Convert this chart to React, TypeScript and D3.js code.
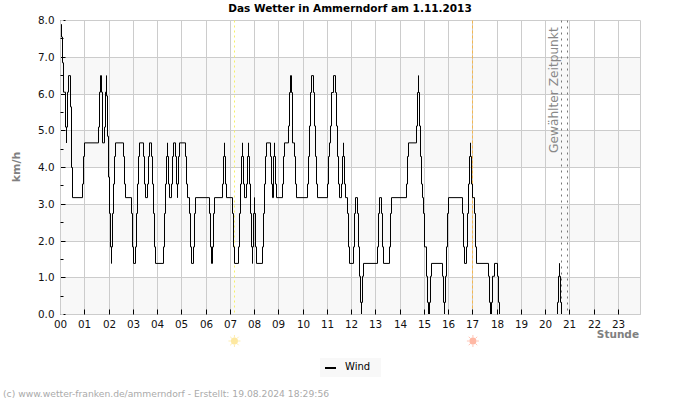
import { useEffect, useRef } from "react";

import * as d3 from "d3";

// Wind readings as [sample, km/h]; a new sample is logged 24.26 times per hour
const samplesPerHour = 24.26;
const windSteps: [number, number][] = [
  [1, 7.9], [1, 7.55], [2, 6.85], [3, 6.05], [5, 5.1], [6, 4.67], [6, 5.1], [7, 6.05], [8, 6.5], [10, 5.65], [11, 4.0], [12, 3.18],
  [22, 3.55], [23, 4.3], [24, 4.67], [38, 5.1], [39, 6.05], [40, 6.5], [41, 6.05], [42, 5.1], [42, 4.67], [44, 5.1], [45, 6.05], [46, 6.5], [46, 5.95],
  [47, 4.85], [48, 3.74], [49, 2.75], [50, 1.84], [51, 1.39], [51, 1.84], [52, 2.75], [53, 3.55], [54, 4.3], [55, 4.67],
  [63, 4.3], [64, 3.55], [65, 3.18], [71, 2.75], [72, 1.84], [73, 1.39], [75, 1.84], [76, 2.75], [77, 3.55], [78, 4.3], [79, 4.67],
  [83, 4.3], [84, 3.55], [85, 3.18], [87, 3.55], [88, 4.3], [89, 4.67], [91, 4.3], [92, 3.55], [93, 2.75], [94, 1.84], [95, 1.39],
  [103, 1.84], [104, 2.75], [105, 3.55], [106, 4.3], [107, 4.67], [107, 4.3], [108, 3.55], [109, 3.18], [111, 3.55], [112, 4.3], [113, 4.67],
  [115, 4.3], [116, 3.55], [117, 3.18], [117, 3.55], [118, 4.3], [119, 4.67], [125, 4.3], [126, 3.55], [127, 3.18], [129, 2.75], [130, 1.84], [131, 1.39],
  [133, 1.84], [134, 2.75], [135, 3.18], [149, 2.75], [150, 1.84], [151, 1.39], [152, 1.84], [153, 2.75], [154, 3.18],
  [162, 3.55], [163, 4.3], [164, 4.67], [164, 4.3], [165, 3.55], [166, 3.18], [172, 2.75], [173, 1.84], [174, 1.39],
  [178, 1.84], [179, 2.75], [180, 3.55], [181, 4.3], [182, 4.67], [182, 4.3], [183, 3.55], [184, 3.18], [186, 3.55], [187, 4.3], [188, 4.67], [188, 4.3],
  [189, 3.55], [190, 2.75], [191, 1.84], [192, 1.39], [192, 1.84], [193, 2.75], [194, 3.18], [194, 2.75], [195, 1.84], [196, 1.39],
  [202, 1.84], [203, 2.75], [204, 3.55], [205, 4.3], [206, 4.67], [210, 4.3], [211, 3.55], [212, 3.18], [213, 4.3], [214, 4.67], [214, 4.3], [215, 3.55], [216, 3.18],
  [222, 3.55], [223, 4.3], [224, 4.67], [228, 5.13], [229, 6.04], [230, 6.5], [231, 6.04], [232, 5.13], [232, 4.67], [234, 4.3], [235, 3.55], [236, 3.18],
  [247, 3.55], [248, 4.3], [249, 5.13], [250, 6.04], [251, 6.5], [253, 6.04], [254, 5.13], [255, 4.3], [256, 3.55], [257, 3.18],
  [267, 3.55], [268, 4.3], [269, 4.67], [270, 5.13], [271, 6.04], [273, 6.5], [275, 6.04], [276, 5.13], [277, 4.3], [278, 3.55], [279, 3.18],
  [281, 3.55], [282, 4.3], [283, 4.67], [283, 4.3], [284, 3.55], [285, 3.18], [287, 2.75], [288, 1.84], [289, 1.39],
  [293, 1.84], [294, 2.75], [295, 3.18], [297, 2.75], [298, 1.84], [299, 1.04], [300, 0.33], [301, 0], [301, 0.33], [302, 1.04], [303, 1.39],
  [317, 1.84], [318, 2.75], [319, 3.18], [321, 2.75], [322, 1.84], [323, 1.39], [329, 1.84], [330, 2.75], [331, 3.18],
  [346, 3.55], [347, 4.3], [348, 4.67], [356, 5.13], [357, 6.04], [358, 6.5], [358, 6.04], [359, 5.13], [360, 4.3], [361, 3.55], [362, 3.18],
  [363, 2.75], [364, 1.84], [366, 1.04], [367, 0.33], [368, 0], [369, 0.33], [370, 1.04], [371, 1.39],
  [382, 1.04], [383, 0.33], [384, 0], [384, 0.33], [385, 1.04], [386, 1.84], [387, 2.75], [388, 3.18],
  [402, 2.75], [403, 1.84], [404, 1.39], [406, 1.84], [407, 2.75], [408, 3.55], [409, 4.3], [410, 4.67], [410, 4.3], [411, 3.55], [412, 3.18],
  [414, 2.75], [415, 1.84], [416, 1.39], [428, 1.04], [429, 0.33], [430, 0], [431, 0.33], [432, 1.04], [434, 1.39],
  [437, 1.04], [438, 0.33], [439, 0], [497, 0.33], [498, 1.04], [499, 1.39], [499, 1.04], [500, 0.33], [501, 0], [579, 0],
];

const hourTicks = d3.range(0, 24);
const speedTicks = [0, 1, 2, 3, 4, 5, 6, 7, 8];
const minorSpeedTicks = [0.5, 1.5, 2.5, 3.5, 4.5, 5.5, 6.5, 7.5];
const shadedBands = [0, 2, 4, 6];

const sunriseHour = 7.17;
const sunsetHour = 17.0;
const selectedHours = [20.65, 20.9];

const W = 700;
const H = 400;
const font = "'DejaVu Sans', sans-serif";

// Snap to the pixel grid so 1px lines stay sharp
const crisp = (v: number) => Math.round(v - 0.5) + 0.5;

export default function App() {
  const svgRef = useRef<SVGSVGElement | null>(null);

  useEffect(() => {
    if (!svgRef.current) return;
    const svg = d3.select(svgRef.current);
    svg.selectAll("*").remove();

    const x = d3.scaleLinear().domain([0, 580 / samplesPerHour]).range([60.5, 640.5]);
    const y = d3.scaleLinear().domain([0, 8]).range([314.5, 20.5]);

    // Alternating bands behind the grid
    svg.append("g")
      .selectAll("rect")
      .data(shadedBands)
      .join("rect")
      .attr("x", x.range()[0])
      .attr("width", x.range()[1] - x.range()[0])
      .attr("y", (d) => crisp(y(d + 1)))
      .attr("height", (d) => crisp(y(d)) - crisp(y(d + 1)))
      .attr("fill", "#f8f8f8");

    // Grid
    const grid = svg.append("g").attr("stroke", "#cccccc").attr("stroke-width", 1);
    grid.selectAll("line.h")
      .data(speedTicks)
      .join("line")
      .attr("class", "h")
      .attr("x1", x.range()[0])
      .attr("x2", x.range()[1])
      .attr("y1", (d) => crisp(y(d)))
      .attr("y2", (d) => crisp(y(d)));
    grid.selectAll("line.v")
      .data(hourTicks)
      .join("line")
      .attr("class", "v")
      .attr("x1", (d) => crisp(x(d)))
      .attr("x2", (d) => crisp(x(d)))
      .attr("y1", y(8))
      .attr("y2", y(0));
    grid.append("line")
      .attr("x1", x.range()[1])
      .attr("x2", x.range()[1])
      .attr("y1", y(8))
      .attr("y2", y(0));

    // Sunrise, sunset and the selected time
    const marker = (hour: number, color: string, dash: string) =>
      svg.append("line")
        .attr("x1", crisp(x(hour)))
        .attr("x2", crisp(x(hour)))
        .attr("y1", y(8))
        .attr("y2", y(0))
        .attr("stroke", color)
        .attr("stroke-dasharray", dash);
    marker(sunriseHour, "#f7f06a", "2,3");
    marker(sunsetHour, "#f5b74f", "3,2");
    selectedHours.forEach((h) => marker(h, "#777777", "2,4"));

    svg.append("text")
      .attr("transform", "translate(558,153) rotate(-90)")
      .attr("font-family", font)
      .attr("font-size", 12.2)
      .attr("fill", "#888888")
      .text("Gewählter Zeitpunkt");

    // Wind line, clipped to the plot so calm periods stay off the axis
    svg.append("clipPath")
      .attr("id", "plot-clip")
      .append("rect")
      .attr("x", 60)
      .attr("y", 20)
      .attr("width", 581)
      .attr("height", 294);

    const line = d3
      .line<[number, number]>()
      .x((d) => x(d[0] / samplesPerHour))
      .y((d) => y(d[1]))
      .curve(d3.curveStepAfter);

    svg.append("path")
      .datum(windSteps)
      .attr("clip-path", "url(#plot-clip)")
      .attr("fill", "none")
      .attr("stroke", "#000000")
      .attr("stroke-width", 1)
      .attr("d", line);

    // Axes: ticks point into the plot
    const xAxis = d3
      .axisBottom(x)
      .tickValues(hourTicks)
      .tickSize(-5)
      .tickPadding(6)
      .offset(0)
      .tickFormat((d) => String(d).padStart(2, "0"));
    const gx = svg.append("g").attr("transform", `translate(0,${y(0)})`).call(xAxis as any);
    gx.selectAll<SVGGElement, number>(".tick").attr("transform", (d) => `translate(${crisp(x(d))},0)`);

    const yAxis = d3
      .axisLeft(y)
      .tickValues(speedTicks)
      .tickSize(-5)
      .tickPadding(6)
      .offset(0)
      .tickFormat((d) => (d as number).toFixed(1));
    const gy = svg.append("g").attr("transform", `translate(${x.range()[0]},0)`).call(yAxis as any);
    gy.selectAll<SVGGElement, number>(".tick").attr("transform", (d) => `translate(0,${crisp(y(d))})`);

    const yMinor = d3.axisLeft(y).tickValues(minorSpeedTicks).tickSize(-3).offset(0).tickFormat(() => "");
    const gm = svg.append("g").attr("transform", `translate(${x.range()[0]},0)`).call(yMinor as any);
    gm.selectAll<SVGGElement, number>(".tick").attr("transform", (d) => `translate(0,${crisp(y(d))})`);

    [gx, gy, gm].forEach((g) => {
      g.selectAll(".domain").attr("stroke", "#cccccc");
      g.selectAll("text")
        .attr("font-family", font)
        .attr("font-size", 10.4)
        .attr("fill", "#111111");
    });

    // Titles
    svg.append("text")
      .attr("x", 350)
      .attr("y", 12)
      .attr("text-anchor", "middle")
      .attr("font-family", font)
      .attr("font-size", 10.5)
      .attr("font-weight", "bold")
      .text("Das Wetter in Ammerndorf am 1.11.2013");

    svg.append("text")
      .attr("transform", "translate(19.5,167) rotate(-90)")
      .attr("text-anchor", "middle")
      .attr("font-family", font)
      .attr("font-size", 11)
      .attr("font-weight", "bold")
      .attr("fill", "#808080")
      .text("km/h");

    svg.append("text")
      .attr("x", 639)
      .attr("y", 338)
      .attr("text-anchor", "end")
      .attr("font-family", font)
      .attr("font-size", 10.5)
      .attr("font-weight", "bold")
      .attr("fill", "#808080")
      .text("Stunde");

    // Sun symbols below the axis
    const sun = (hour: number, color: string) => {
      const g = svg.append("g")
        .attr("transform", `translate(${x(hour)},341)`)
        .attr("fill", color)
        .attr("stroke", color);
      g.append("circle").attr("r", 3.5).attr("stroke", "none");
      g.selectAll("line")
        .data(d3.range(0, 360, 45))
        .join("line")
        .attr("x1", 3.5)
        .attr("x2", 6)
        .attr("transform", (d) => `rotate(${d})`)
        .attr("stroke-width", 0.8);
    };
    sun(sunriseHour, "#fde8a0");
    sun(sunsetHour, "#ffb8a4");

    // Legend
    svg.append("rect")
      .attr("x", 320)
      .attr("y", 358)
      .attr("width", 61)
      .attr("height", 19)
      .attr("fill", "#f8f8f8");
    svg.append("line")
      .attr("x1", 325)
      .attr("x2", 336)
      .attr("y1", 368)
      .attr("y2", 368)
      .attr("stroke", "#000000")
      .attr("stroke-width", 2);
    svg.append("text")
      .attr("x", 345)
      .attr("y", 370)
      .attr("font-family", font)
      .attr("font-size", 10)
      .text("Wind");

    // Footer
    svg.append("text")
      .attr("x", 3)
      .attr("y", 397)
      .attr("font-family", font)
      .attr("font-size", 9.2)
      .attr("fill", "#aaaaaa")
      .text("(c) www.wetter-franken.de/ammerndorf - Erstellt: 19.08.2024 18:29:56");
  }, []);

  return (
    <svg
      ref={svgRef}
      width={W}
      height={H}
      style={{ position: "absolute", left: 0, top: 0, background: "#ffffff" }}
    />
  );
}
